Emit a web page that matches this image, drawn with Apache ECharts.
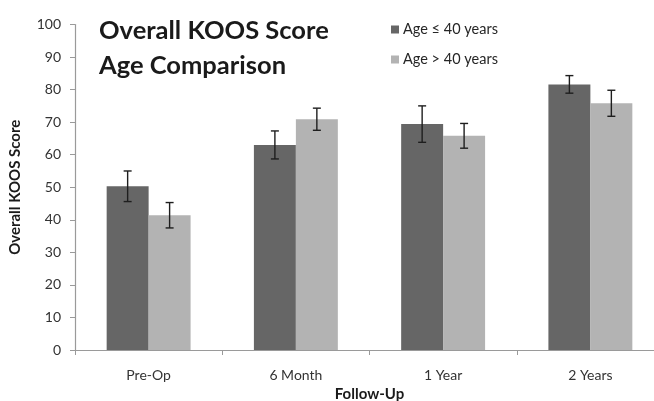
<!DOCTYPE html>
<html><head><meta charset="utf-8">
<script src="https://cdn.jsdelivr.net/npm/echarts@6/dist/echarts.min.js"></script>
<style>html,body{margin:0;padding:0;background:#fff}#c{width:654px;height:401px}</style>
</head><body><div id="c"></div>
<script>
const categories = ['Pre-Op', '6 Month', '1 Year', '2 Years'];
const seriesNames = ['Age \u2264 40 years', 'Age > 40 years'];
const youngMean = [50.3, 63.0, 69.4, 81.6];
const youngErr = [4.7, 4.3, 5.6, 2.7];
const oldMean = [41.4, 70.9, 65.8, 75.8];
const oldErr = [3.9, 3.4, 3.8, 4.0];
const yTicks = [0, 10, 20, 30, 40, 50, 60, 70, 80, 90, 100];

const FONT = 'Lato';
const GAP = 0.43;
const chart = echarts.init(document.getElementById('c'));

function errSeries(means, errs, side) {
  return {
    type: 'custom',
    silent: true,
    z: 10,
    clip: false,
    data: means.map((m, i) => [i, m, errs[i]]),
    renderItem: function (params, api) {
      const i = api.value(0), m = api.value(1), e = api.value(2);
      const band = api.size([1, 0])[0];
      const bw = band * (1 - GAP) / 2;
      const x = api.coord([i, m])[0] + side * bw / 2;
      const yt = api.coord([i, m + e])[1];
      const yb = api.coord([i, m - e])[1];
      const cap = 4;
      const st = { stroke: '#1e1e1e', lineWidth: 1.4 };
      return { type: 'group', children: [
        { type: 'line', shape: { x1: x, y1: yt, x2: x, y2: yb }, style: st },
        { type: 'line', shape: { x1: x - cap, y1: yt, x2: x + cap, y2: yt }, style: st },
        { type: 'line', shape: { x1: x - cap, y1: yb, x2: x + cap, y2: yb }, style: st }
      ]};
    }
  };
}

chart.setOption({
  animation: false,
  textStyle: { fontFamily: FONT },
  title: {
    text: 'Overall KOOS Score\nAge Comparison',
    left: 94, top: 8,
    textStyle: { fontFamily: FONT, fontWeight: 'bold', fontSize: 25.5, lineHeight: 35, color: '#1a1a1a' }
  },
  legend: {
    orient: 'vertical', left: 386, top: 17,
    itemWidth: 8, itemHeight: 8, itemGap: 15,
    icon: 'rect',
    data: seriesNames,
    textStyle: { fontFamily: FONT, fontSize: 14.5, color: '#262626', padding: [0, 0, 0, -1] }
  },
  grid: { left: 75, right: -10, top: 24.5, bottom: 51, containLabel: false, outerBoundsMode: 'none' },
  xAxis: {
    type: 'category',
    data: categories,
    name: 'Follow-Up', nameLocation: 'middle', nameGap: 36,
    nameTextStyle: { fontFamily: FONT, fontWeight: 'bold', fontSize: 15, color: '#1a1a1a' },
    axisLine: { lineStyle: { color: '#9a9a9a', width: 1.2 } },
    axisTick: { show: true, length: 5, lineStyle: { color: '#9a9a9a' } },
    axisLabel: { fontFamily: FONT, fontSize: 14, color: '#333', margin: 18 }
  },
  yAxis: {
    type: 'value', min: 0, max: 100, interval: 10,
    name: 'Overall KOOS Score', nameLocation: 'middle', nameGap: 52,
    nameTextStyle: { fontFamily: FONT, fontWeight: 'bold', fontSize: 15, color: '#1a1a1a' },
    axisLine: { show: true, lineStyle: { color: '#9a9a9a', width: 1.2 } },
    axisTick: { show: true, length: 5, lineStyle: { color: '#9a9a9a' } },
    splitLine: { show: false },
    axisLabel: { fontFamily: FONT, fontSize: 14, color: '#333', margin: 14,
      formatter: v => yTicks.includes(v) ? String(v) : '' }
  },
  series: [
    { name: seriesNames[0], type: 'bar', data: youngMean, barGap: '0%', barCategoryGap: (GAP * 100) + '%',
      itemStyle: { color: '#666666' } },
    { name: seriesNames[1], type: 'bar', data: oldMean, barGap: '0%', barCategoryGap: (GAP * 100) + '%',
      itemStyle: { color: '#b3b3b3' } },
    errSeries(youngMean, youngErr, -1),
    errSeries(oldMean, oldErr, 1)
  ]
});
</script></body></html>
